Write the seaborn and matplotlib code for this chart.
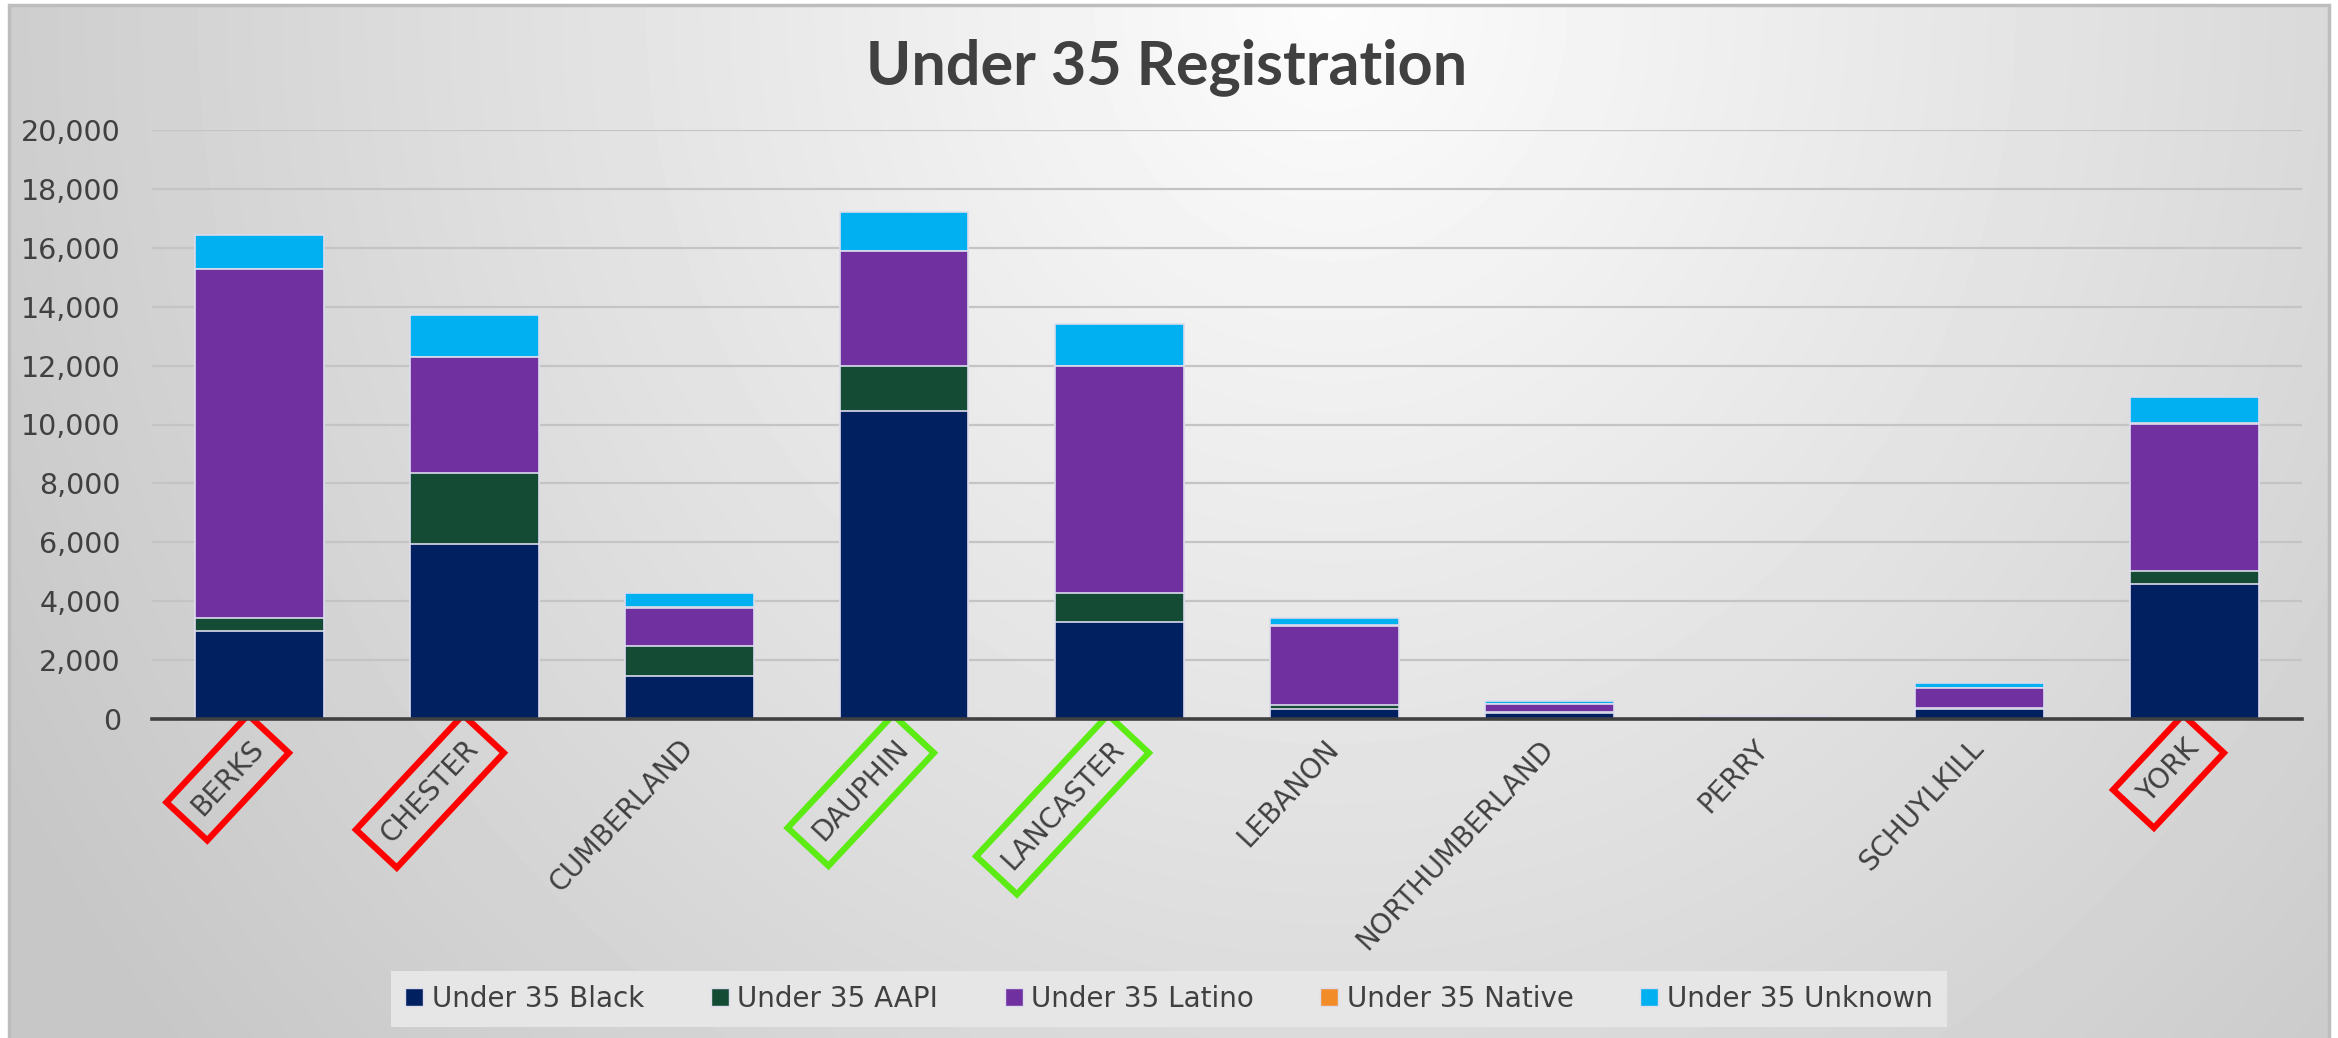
import numpy as np
import pandas as pd
import seaborn as sns
import matplotlib.pyplot as plt
from matplotlib.patches import Patch, Rectangle

counties = ["BERKS", "CHESTER", "CUMBERLAND", "DAUPHIN", "LANCASTER",
            "LEBANON", "NORTHUMBERLAND", "PERRY", "SCHUYLKILL", "YORK"]
black = [3000, 5950, 1470, 10450, 3280, 330, 190, 20, 330, 4600]
aapi = [430, 2400, 1000, 1550, 1000, 130, 45, 5, 40, 430]
latino = [11840, 3930, 1310, 3880, 7700, 2710, 270, 35, 675, 5000]
native = [20, 15, 15, 25, 20, 15, 10, 2, 10, 20]
unknown = [1150, 1410, 500, 1300, 1420, 260, 95, 25, 155, 900]

series_names = ["Under 35 Black", "Under 35 AAPI", "Under 35 Latino",
                "Under 35 Native", "Under 35 Unknown"]
series_colors = ["#002060", "#134B34", "#7030A0", "#F28C28", "#00B0F0"]
red_boxes = ["BERKS", "CHESTER", "YORK"]
green_boxes = ["DAUPHIN", "LANCASTER"]

sns.set_style("white")
plt.rcParams["font.family"] = ["DejaVu Sans"]
txt = "#404040"

df = pd.DataFrame({"county": counties, series_names[0]: black, series_names[1]: aapi,
                   series_names[2]: latino, series_names[3]: native,
                   series_names[4]: unknown})
cum = df[series_names].cumsum(axis=1)

fig = plt.figure(figsize=(23.38, 10.38), dpi=100, facecolor="white")

# gradient backdrop
bg = fig.add_axes([9 / 2338, 0, 2320 / 2338, 1033 / 1038], zorder=-10)
gx, gy = np.meshgrid(np.linspace(0, 1, 400), np.linspace(0, 1, 200))
t = np.sqrt(((gx - 0.57) / 0.62) ** 2 + (gy / 1.5) ** 2)
shade = np.clip(0.99 - 0.2 * t, 0.78, 0.99)
bg.imshow(shade, cmap="gray", vmin=0, vmax=1, aspect="auto",
          extent=[0, 1, 1, 0], interpolation="bilinear")
bg.set_axis_off()
fig.patches.append(Rectangle((9 / 2338, -0.01), 2320 / 2338, 1.01 - 5 / 1038,
                             transform=fig.transFigure, fill=False,
                             ec="#BDBDBD", lw=2.5, zorder=-5))

ax = fig.add_axes([151.5 / 2338, 1 - 719 / 1038, 2150 / 2338, 589 / 1038])
ax.set_facecolor("none")

# draw cumulative totals from top segment down so each lower one sits on top
for name, color in reversed(list(zip(series_names, series_colors))):
    sns.barplot(x=df["county"], y=cum[name], color=color, width=0.6, ax=ax,
                edgecolor="#DCDCEC", linewidth=1.2, errorbar=None, saturation=1)

ax.set_ylim(0, 20000)
ax.set_xlim(-0.5, len(counties) - 0.5)
ax.set_yticks(range(0, 20001, 2000))
ax.set_yticklabels([f"{v:,}" for v in range(0, 20001, 2000)])
ax.yaxis.grid(True, color="#C4C4C4", lw=1.6)
ax.set_axisbelow(True)
for s in ["top", "right", "left"]:
    ax.spines[s].set_visible(False)
ax.spines["bottom"].set_color("#404040")
ax.spines["bottom"].set_linewidth(2.6)
ax.set_xlabel("")
ax.set_ylabel("")
ax.tick_params(axis="y", length=0, pad=22, labelsize=20.5, labelcolor=txt)
ax.tick_params(axis="x", length=0, pad=18, labelsize=20, labelcolor=txt)
ax.set_xticks(range(len(counties)))
ax.set_xticklabels(counties, rotation=47, ha="right", va="center",
                   rotation_mode="anchor")
for lbl in ax.get_xticklabels():
    name = lbl.get_text()
    if name in red_boxes:
        lbl.set_bbox(dict(boxstyle="square,pad=0.5", fc="none", ec="#FF0000", lw=4.5))
    elif name in green_boxes:
        lbl.set_bbox(dict(boxstyle="square,pad=0.5", fc="none", ec="#5CEB12", lw=4.5))

fig.text(0.499, 0.935, "Under 35 Registration", ha="center", va="center",
         fontsize=44, fontweight="bold", color=txt, family=["Lato", "DejaVu Sans"])

handles = [Patch(facecolor=c, edgecolor="#DCDCEC", lw=1) for c in series_colors]
leg = fig.legend(handles, series_names, loc="center", bbox_to_anchor=(0.5, 0.0376),
                 ncol=5, fontsize=20, frameon=True, fancybox=False,
                 handlelength=0.65, handleheight=0.65, handletextpad=0.3,
                 columnspacing=2.4, borderpad=0.5, borderaxespad=0,
                 labelcolor=txt)
leg.get_frame().set_facecolor("#E6E6E6")
leg.get_frame().set_edgecolor("none")
leg.get_frame().set_alpha(1)

fig.savefig("out.png", dpi=100)
